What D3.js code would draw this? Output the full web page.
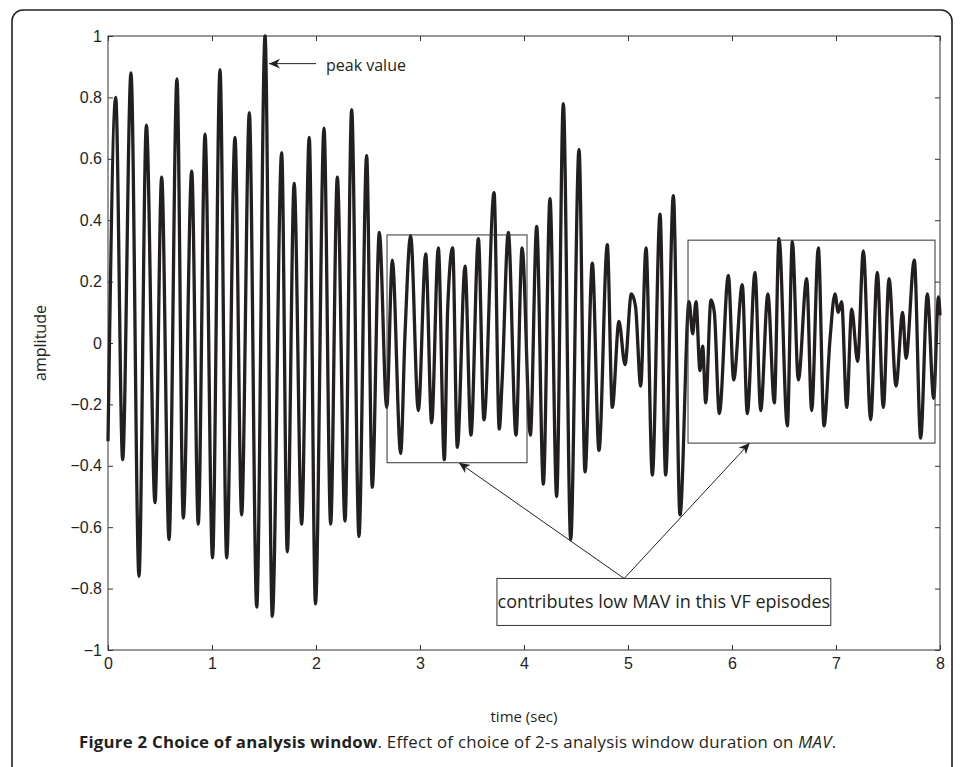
<!DOCTYPE html>
<html>
<head>
<meta charset="utf-8">
<script src="https://cdn.jsdelivr.net/npm/d3@7"></script>
<style>
  body { margin: 0; background: #fff; }
  svg { display: block; font-family: "Open Sans", sans-serif; }
  .tick text { font-size: 16px; fill: #231f20; }
  .tick line { stroke: #333; }
</style>
</head>
<body>
<svg id="chart" width="960" height="767"></svg>
<script>
// VF signal, local peaks/troughs (time in sec, amplitude)
const times = [
  0, 0.074, 0.141, 0.221, 0.298, 0.369, 0.452, 0.516, 0.587, 0.663, 0.724, 0.805, 0.868, 0.933,
  1.005, 1.077, 1.141, 1.221, 1.285, 1.359, 1.43, 1.51, 1.58, 1.67, 1.724, 1.79, 1.862, 1.935,
  1.995, 2.077, 2.141, 2.205, 2.279, 2.343, 2.413, 2.487, 2.541, 2.609, 2.68, 2.734, 2.814, 2.856,
  2.91, 2.984, 3.055, 3.112, 3.176, 3.234, 3.266, 3.314, 3.359, 3.433, 3.49, 3.561, 3.615, 3.712,
  3.762, 3.79, 3.849, 3.923, 3.982, 4.061, 4.122, 4.186, 4.25, 4.314, 4.378, 4.449, 4.529, 4.587,
  4.657, 4.721, 4.801, 4.849, 4.913, 4.971, 5.032, 5.072, 5.122, 5.173, 5.234, 5.308, 5.362, 5.436,
  5.5, 5.587, 5.622, 5.654, 5.692, 5.718, 5.747, 5.798, 5.83, 5.878, 5.965, 6.016, 6.099, 6.147,
  6.221, 6.276, 6.345, 6.407, 6.452, 6.532, 6.58, 6.638, 6.718, 6.766, 6.83, 6.885, 6.942, 6.99,
  7.022, 7.054, 7.103, 7.151, 7.208, 7.263, 7.333, 7.397, 7.455, 7.51, 7.577, 7.641, 7.673, 7.753,
  7.814, 7.878, 7.939, 7.985, 8.0
];
const amplitude = [
  -0.32, 0.80, -0.38, 0.88, -0.76, 0.71, -0.52, 0.54, -0.64, 0.86, -0.57, 0.56, -0.59, 0.68,
  -0.70, 0.89, -0.70, 0.67, -0.56, 0.75, -0.86, 1.0, -0.89, 0.62, -0.68, 0.52, -0.59, 0.67,
  -0.85, 0.70, -0.59, 0.54, -0.58, 0.76, -0.63, 0.61, -0.47, 0.36, -0.21, 0.27, -0.36, 0.03,
  0.35, -0.22, 0.29, -0.26, 0.31, -0.38, 0.11, 0.31, -0.34, 0.25, -0.30, 0.34, -0.25, 0.49,
  -0.28, -0.12, 0.36, -0.30, 0.31, -0.30, 0.38, -0.46, 0.47, -0.50, 0.78, -0.64, 0.63, -0.42,
  0.26, -0.35, 0.32, -0.21, 0.07, -0.07, 0.16, 0.12, -0.14, 0.31, -0.43, 0.42, -0.43, 0.48,
  -0.56, 0.135, 0.03, 0.135, -0.09, -0.01, -0.195, 0.14, 0.10, -0.23, 0.22, -0.12, 0.19, -0.23,
  0.23, -0.22, 0.16, -0.195, 0.34, -0.27, 0.33, -0.12, 0.21, -0.22, 0.31, -0.27, 0.01, 0.16,
  0.10, 0.135, -0.21, 0.11, -0.06, 0.30, -0.25, 0.23, -0.21, 0.21, -0.14, 0.10, -0.05, 0.27,
  -0.31, 0.16, -0.18, 0.15, 0.09
];

const xTicks = [0, 1, 2, 3, 4, 5, 6, 7, 8];
const yTicks = [-1, -0.8, -0.6, -0.4, -0.2, 0, 0.2, 0.4, 0.6, 0.8, 1];

// annotation boxes in data units: [t0, t1, a0, a1]
const windowBoxes = [[2.683, 4.029, -0.39, 0.352], [5.577, 7.952, -0.326, 0.335]];
const peakLabel = 'peak value';
const boxLabel = 'contributes low MAV in this VF episodes';

const svg = d3.select('#chart');
const margin = { left: 108, right: 20, top: 36, bottom: 117 };
const pw = 940 - margin.left;
const ph = 650 - margin.top;

// outer rounded frame
svg.append('rect')
  .attr('x', 12).attr('y', 10)
  .attr('width', 940).attr('height', 820)
  .attr('rx', 11)
  .attr('fill', 'none')
  .attr('stroke', '#231f20')
  .attr('stroke-width', 1.6);

const x = d3.scaleLinear().domain([0, 8]).range([0, pw]);
const y = d3.scaleLinear().domain([-1, 1]).range([ph, 0]);

const g = svg.append('g').attr('transform', `translate(${margin.left},${margin.top})`);

const fmt = d3.format('~g');

// axes, ticks pointing inward on all four sides
g.append('g').attr('transform', `translate(0,${ph})`)
  .call(d3.axisBottom(x).tickValues(xTicks).tickSize(-5).tickPadding(8).tickFormat(fmt))
  .call(a => a.select('.domain').remove());
g.append('g')
  .call(d3.axisTop(x).tickValues(xTicks).tickSize(-5).tickFormat(''))
  .call(a => a.select('.domain').remove());
g.append('g')
  .call(d3.axisLeft(y).tickValues(yTicks).tickSize(-5).tickPadding(6).tickFormat(fmt))
  .call(a => a.select('.domain').remove());
g.append('g').attr('transform', `translate(${pw},0)`)
  .call(d3.axisRight(y).tickValues(yTicks).tickSize(-5).tickFormat(''))
  .call(a => a.select('.domain').remove());

g.append('rect')
  .attr('width', pw).attr('height', ph)
  .attr('fill', 'none')
  .attr('stroke', '#333')
  .attr('stroke-width', 1);

// signal
const pts = times.map((t, i) => [t, amplitude[i]]);
const line = d3.line()
  .x(d => x(d[0]))
  .y(d => y(d[1]))
  .curve(d3.curveMonotoneX);

g.append('path')
  .datum(pts)
  .attr('d', line)
  .attr('fill', 'none')
  .attr('stroke', '#231f20')
  .attr('stroke-width', 3.3)
  .attr('stroke-linejoin', 'round');

// arrow marker
svg.append('defs').append('marker')
  .attr('id', 'arrow')
  .attr('viewBox', '0 0 10 10')
  .attr('refX', 10).attr('refY', 5)
  .attr('markerWidth', 11).attr('markerHeight', 11)
  .attr('markerUnits', 'userSpaceOnUse')
  .attr('orient', 'auto')
  .append('path')
  .attr('d', 'M0,0.5 L10,5 L0,9.5 L3,5 Z')
  .attr('fill', '#231f20');

// window boxes
g.selectAll('rect.win')
  .data(windowBoxes)
  .join('rect')
  .attr('class', 'win')
  .attr('x', d => x(d[0]))
  .attr('y', d => y(d[3]))
  .attr('width', d => x(d[1]) - x(d[0]))
  .attr('height', d => y(d[2]) - y(d[3]))
  .attr('fill', 'none')
  .attr('stroke', '#333')
  .attr('stroke-width', 1);

// peak value arrow
const peakT = times[amplitude.indexOf(d3.max(amplitude))];
g.append('line')
  .attr('x1', x(2)).attr('y1', y(0.91))
  .attr('x2', x(peakT) + 4).attr('y2', y(0.91))
  .attr('stroke', '#231f20').attr('stroke-width', 1)
  .attr('marker-end', 'url(#arrow)');
g.append('text')
  .attr('x', x(2) + 10).attr('y', y(0.91))
  .attr('dy', '0.45em')
  .attr('font-size', 16)
  .attr('fill', '#231f20')
  .text(peakLabel);

// label box with two arrows
const apex = [x(4.963), y(-0.767)];
const targets = [[x(3.375), y(-0.39)], [x(6.17), y(-0.326)]];
targets.forEach(tg => {
  g.append('line')
    .attr('x1', apex[0]).attr('y1', apex[1])
    .attr('x2', tg[0]).attr('y2', tg[1])
    .attr('stroke', '#231f20').attr('stroke-width', 1)
    .attr('marker-end', 'url(#arrow)');
});
g.append('rect')
  .attr('x', x(3.74)).attr('y', y(-0.767))
  .attr('width', x(6.95) - x(3.74))
  .attr('height', y(-0.92) - y(-0.767))
  .attr('fill', '#fff')
  .attr('stroke', '#333')
  .attr('stroke-width', 1);
g.append('text')
  .attr('x', (x(3.74) + x(6.95)) / 2)
  .attr('y', y(-0.8435))
  .attr('dy', '0.36em')
  .attr('text-anchor', 'middle')
  .attr('font-size', 18)
  .attr('fill', '#231f20')
  .text(boxLabel);

// axis titles
svg.append('text')
  .attr('x', margin.left + pw / 2).attr('y', 722)
  .attr('text-anchor', 'middle')
  .attr('font-size', 15)
  .attr('fill', '#231f20')
  .text('time (sec)');
svg.append('text')
  .attr('transform', `translate(46,${margin.top + ph / 2}) rotate(-90)`)
  .attr('text-anchor', 'middle')
  .attr('font-size', 16)
  .attr('fill', '#231f20')
  .text('amplitude');

// caption
const cap = svg.append('text')
  .attr('x', 79).attr('y', 748)
  .attr('font-size', 16.8)
  .attr('letter-spacing', 0.25)
  .attr('fill', '#231f20');
cap.append('tspan').attr('font-weight', 'bold').text('Figure 2 Choice of analysis window');
cap.append('tspan').text('. Effect of choice of 2-s analysis window duration on ');
cap.append('tspan').attr('font-style', 'italic').text('MAV');
cap.append('tspan').text('.');
</script>
</body>
</html>
